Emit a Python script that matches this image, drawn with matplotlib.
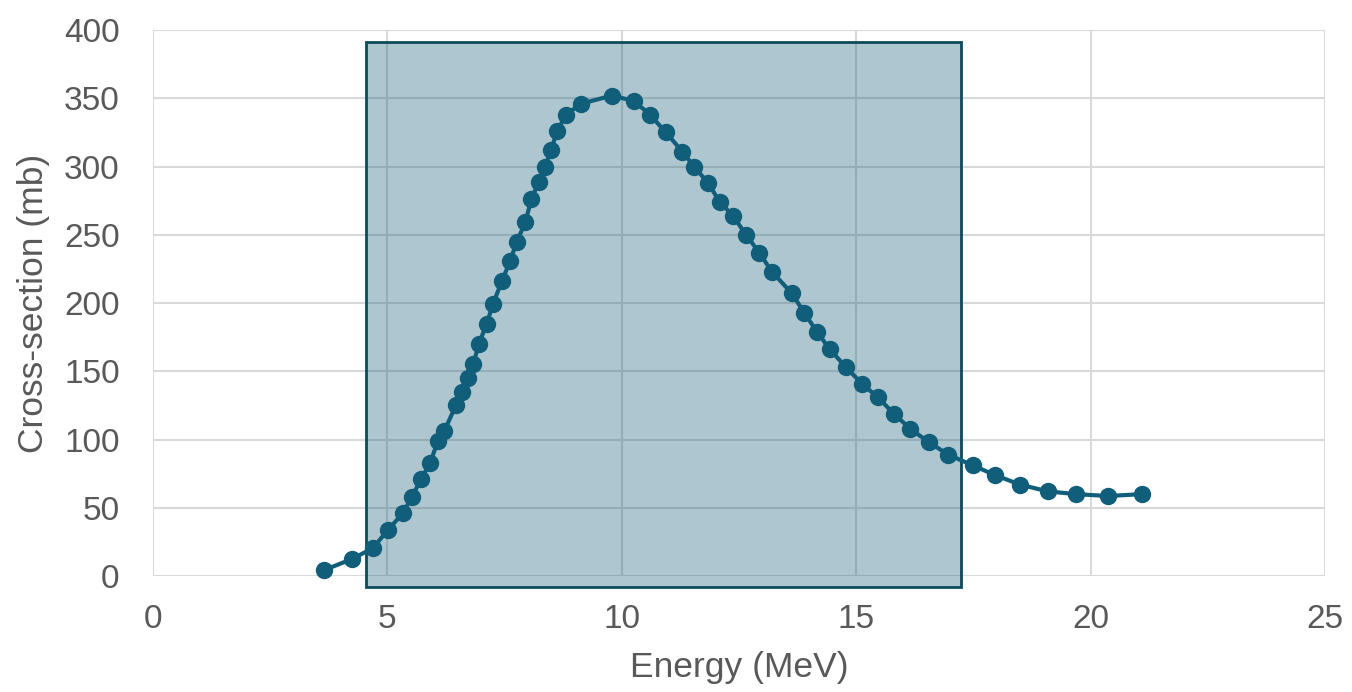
import matplotlib
matplotlib.use("Agg")
import matplotlib.pyplot as plt
from matplotlib.patches import Rectangle

energy = [3.65, 4.25, 4.69, 5.01, 5.33, 5.52, 5.72, 5.91, 6.08, 6.21, 6.46, 6.59, 6.72,
          6.83, 6.95, 7.12, 7.25, 7.44, 7.62, 7.76, 7.94, 8.07, 8.23, 8.36, 8.49, 8.62,
          8.81, 9.13, 9.79, 10.26, 10.6, 10.94, 11.29, 11.54, 11.84, 12.09, 12.37, 12.65,
          12.93, 13.2, 13.63, 13.89, 14.16, 14.44, 14.78, 15.12, 15.46, 15.8, 16.15,
          16.55, 16.96, 17.49, 17.96, 18.49, 19.09, 19.69, 20.37, 21.1]
cross_section = [4.4, 12.5, 20.5, 33.7, 46, 58, 71, 83, 99, 106, 125, 135, 145,
                 155, 170, 185, 199, 216, 231, 245, 259, 276, 289, 300, 312, 326,
                 338, 346, 352, 348, 338, 325, 311, 300, 288, 274, 264, 250,
                 237, 223, 207, 193, 179, 166, 153, 141, 131, 119, 108,
                 98, 89, 81, 74, 67, 62, 60, 58.6, 60]
region_x = (4.54, 17.24)
region_y = (-8, 391)
x_ticks = [0, 5, 10, 15, 20, 25]
y_ticks = [0, 50, 100, 150, 200, 250, 300, 350, 400]

plt.rcParams['font.family'] = ['Liberation Sans', 'DejaVu Sans']

fig = plt.figure(figsize=(13.52, 6.92), dpi=100)
ax = fig.add_axes([0.1132, 0.1676, 0.980 - 0.1132, 0.9566 - 0.1676])

ax.set_xlim(0, 25)
ax.set_ylim(0, 400)
ax.set_xticks(x_ticks)
ax.set_yticks(y_ticks)
ax.grid(True, color='#d9d9d9', linewidth=1.5, zorder=0)
ax.set_axisbelow(True)
for s in ax.spines.values():
    s.set_visible(False)
ax.tick_params(length=0, labelsize=24, labelcolor='#595959')
ax.tick_params(axis='x', pad=20)
ax.tick_params(axis='y', pad=24)

rect = Rectangle((region_x[0], region_y[0]), region_x[1] - region_x[0], region_y[1] - region_y[0],
                 facecolor=(15/255, 90/255, 117/255, 0.34), edgecolor='#0d4a5c', linewidth=2,
                 clip_on=False, zorder=2)
ax.add_patch(rect)

ax.plot(energy, cross_section, color='#115e7a', linewidth=3, marker='o', markersize=11.5,
        zorder=3, clip_on=False)

ax.set_xlabel('Energy (MeV)', fontsize=25.5, color='#595959', labelpad=12)
ax.set_ylabel('Cross-section (mb)', fontsize=25.5, color='#595959', labelpad=10)

fig.savefig('out.png', dpi=100)
